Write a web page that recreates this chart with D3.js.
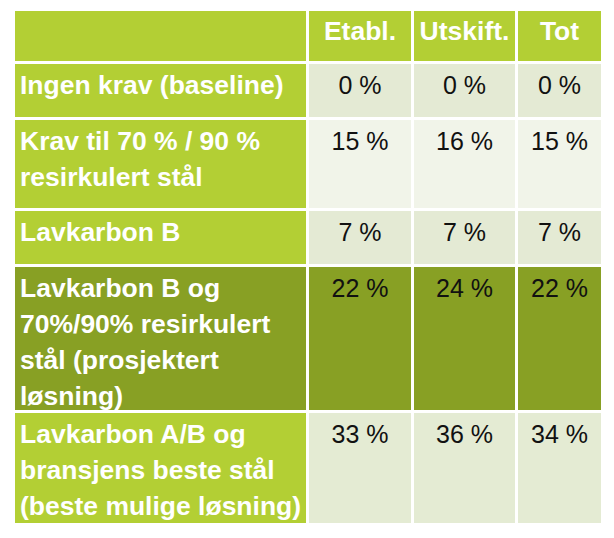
<!DOCTYPE html>
<html>
<head>
<meta charset="utf-8">
<script src="https://cdn.jsdelivr.net/npm/d3@7"></script>
<style>
  body { margin: 0; background: #fff; }
  text { font-family: "Liberation Sans", Arial, sans-serif; font-size: 25px; }
</style>
</head>
<body>
<svg id="chart" width="614" height="538"></svg>
<script>
// table content
const columns = ["Etabl.", "Utskift.", "Tot"];
const rowLabels = [
  ["Ingen krav (baseline)"],
  ["Krav til 70 % / 90 %", "resirkulert stål"],
  ["Lavkarbon B"],
  ["Lavkarbon B og", "70%/90% resirkulert", "stål (prosjektert", "løsning)"],
  ["Lavkarbon A/B og", "bransjens beste stål", "(beste mulige løsning)"]
];
const etabl = [0, 15, 7, 22, 33];
const utskift = [0, 16, 7, 24, 36];
const tot = [0, 15, 7, 22, 34];

// layout
const tLeft = 15, tTop = 11, gap = 3;
const colWidths = [291, 102, 101, 83];
const headerH = 50;
const rowHeights = [53, 88, 53, 143, 110];
const rowFill = ["#e4ead4", "#f1f4e9", "#e4ead4", "#88a024", "#e4ebd3"];
const lime = "#b3cf34";
const dark = "#88a024";
const lineH = 36;

const values = [etabl, utskift, tot];

// cumulative positions
const colX = [];
colWidths.reduce((x, w) => { colX.push(x); return x + w + gap; }, tLeft);
const rowY = [];
rowHeights.reduce((y, h) => { rowY.push(y); return y + h + gap; }, tTop + headerH + gap);

const svg = d3.select("#chart");

// helper: bold labels are a little wider than Arial in the source
function label(g, x, y, str, anchor, fill, weight, sx) {
  g.append("g")
    .attr("transform", `translate(${x},${y}) scale(${sx},1)`)
    .append("text")
    .attr("text-anchor", anchor)
    .attr("fill", fill)
    .attr("font-weight", weight)
    .text(str);
}

// header row
const head = svg.append("g");
colWidths.forEach((w, i) => {
  head.append("rect")
    .attr("x", colX[i]).attr("y", tTop)
    .attr("width", w).attr("height", headerH)
    .attr("fill", lime);
});
columns.forEach((c, i) => {
  label(head, colX[i + 1] + colWidths[i + 1] / 2, tTop + 29, c, "middle", "#fff", "bold", 1.06);
});

// body rows
const rows = svg.selectAll("g.row")
  .data(rowLabels)
  .join("g")
  .attr("class", "row");

rows.each(function (lines, r) {
  const g = d3.select(this);
  const y0 = rowY[r];
  const isDark = r === 3;
  g.append("rect")
    .attr("x", colX[0]).attr("y", y0)
    .attr("width", colWidths[0]).attr("height", rowHeights[r])
    .attr("fill", isDark ? dark : lime);
  lines.forEach((ln, k) => {
    label(g, tLeft + 5, y0 + 30 + k * lineH, ln, "start", "#fff", "bold", 1.06);
  });
  values.forEach((vals, c) => {
    g.append("rect")
      .attr("x", colX[c + 1]).attr("y", y0)
      .attr("width", colWidths[c + 1]).attr("height", rowHeights[r])
      .attr("fill", rowFill[r]);
    label(g, colX[c + 1] + colWidths[c + 1] / 2, y0 + 30, vals[r] + " %", "middle", "#111", "normal", 1);
  });
});
</script>
</body>
</html>
